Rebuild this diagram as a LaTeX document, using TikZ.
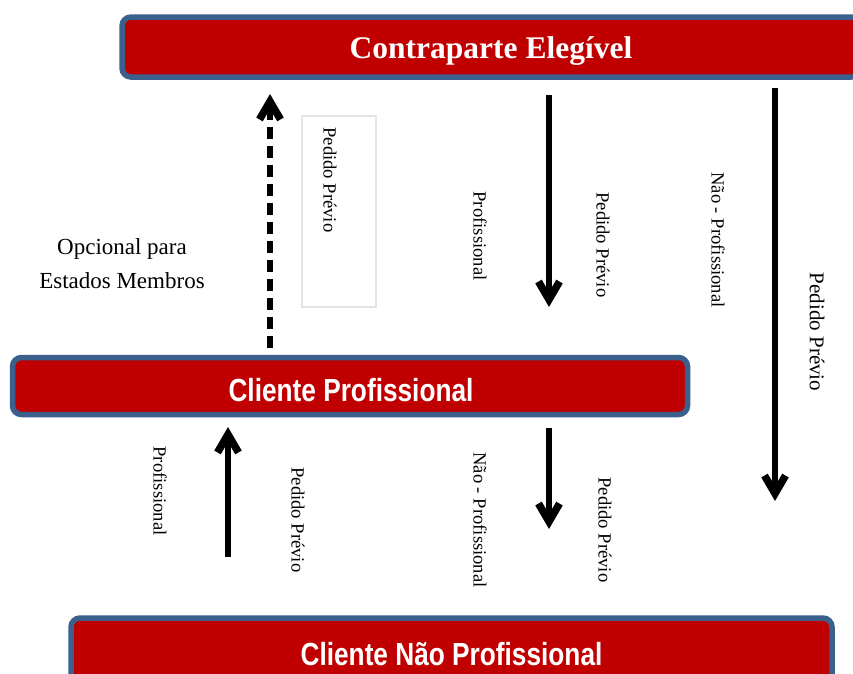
\documentclass[tikz,border=0pt]{standalone}
\usepackage{fontspec}
\setmainfont{Liberation Serif}
\newfontfamily\narrowbold[FakeStretch=0.82]{Liberation Sans Bold}
\usetikzlibrary{arrows.meta}
\definecolor{boxred}{RGB}{192,0,0}
\definecolor{boxblue}{RGB}{60,96,140}
\definecolor{lightframe}{RGB}{228,228,228}
\begin{document}
\begin{tikzpicture}[x=1pt,y=-1pt,
  banner/.style={draw=boxblue, line width=5.5pt, fill=boxred, rounded corners=9pt, inner sep=0pt},
  bannertext/.style={text=white, inner sep=0pt, anchor=base},
  vlabel/.style={rotate=-90, font=\fontsize{18.6}{22}\selectfont, inner sep=0pt},
  flow/.style={line width=6pt, -{Straight Barb[length=18pt,width=21pt,line width=7.5pt]}},
]
\useasboundingbox (0,0) rectangle (853,673);
\clip (0,0) rectangle (853,673);
% boxes
\node[banner, minimum width=738pt, minimum height=60pt] (cp) at (491,47) {};
\node[bannertext, font=\bfseries\fontsize{31.5}{36}\selectfont] (cpt) at (491,58) {Contraparte Elegível};
\node[banner, minimum width=675pt, minimum height=57pt] (prof) at (350,386) {};
\node[bannertext, font=\narrowbold\fontsize{32}{36}\selectfont] (proft) at (351,401.5) {Cliente Profissional};
\node[banner, minimum width=761pt, minimum height=72pt] (np) at (451.5,654) {};
\node[bannertext, font=\narrowbold\fontsize{32}{36}\selectfont] (npt) at (451.5,665) {Cliente Não Profissional};
% frame with label
\node[draw=lightframe, line width=1.5pt, minimum width=74pt, minimum height=191pt, inner sep=0pt] (frame) at (339,211.5) {};
\node[vlabel] (l1) at (330,180) {Pedido Prévio};
% arrow end points
\coordinate (a1s) at (270,348); \coordinate (a1e) at (270,94);
\coordinate (a2s) at (549,95);  \coordinate (a2e) at (549,307);
\coordinate (a3s) at (775,88);  \coordinate (a3e) at (775,501);
\coordinate (a4s) at (228,557); \coordinate (a4e) at (228,427);
\coordinate (a5s) at (549,428); \coordinate (a5e) at (549,529);
\draw[flow, dash pattern=on 12pt off 7pt] (a1s) -- (a1e);
\draw[flow] (a2s) -- (a2e);
\draw[flow] (a3s) -- (a3e);
\draw[flow] (a4s) -- (a4e);
\draw[flow] (a5s) -- (a5e);
% labels
\node[align=center, font=\fontsize{23}{34}\selectfont] (opt) at (122,264) {Opcional para\\Estados Membros};
\node[vlabel] (l2) at (480,236) {Profissional};
\node[vlabel] (l3) at (603,245) {Pedido Prévio};
\node[vlabel] (l4) at (718,240) {Não - Profissional};
\node[vlabel, font=\fontsize{21}{25}\selectfont] (l5) at (817,332) {Pedido Prévio};
\node[vlabel] (l6) at (160,491) {Profissional};
\node[vlabel] (l7) at (298,520) {Pedido Prévio};
\node[vlabel] (l8) at (480,520) {Não - Profissional};
\node[vlabel] (l9) at (605,530) {Pedido Prévio};
\end{tikzpicture}
\end{document}
